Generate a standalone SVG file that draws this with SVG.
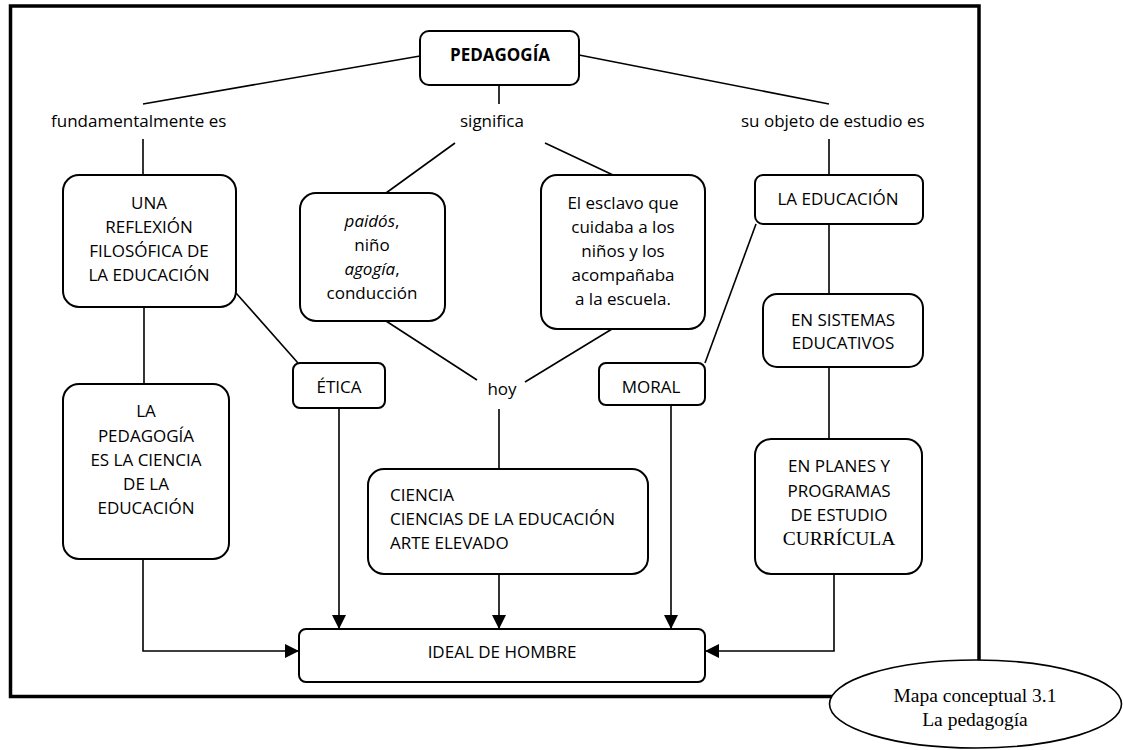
<svg xmlns="http://www.w3.org/2000/svg" width="1123" height="750" viewBox="0 0 1123 750">
  <style>
    .box { fill: #fff; stroke: #000; stroke-width: 2; }
    .t { font-family: "Open Sans", "Liberation Sans", sans-serif; font-size: 17px; fill: #000; }
    .c { text-anchor: middle; }
    .b { font-weight: bold; }
    .i { font-style: italic; }
    .serif { font-family: "Liberation Serif", "Times New Roman", serif; font-size: 19.5px; fill: #000; }
    .ln { fill: none; stroke: #000; stroke-width: 1.6; }
    .arr { fill: none; stroke: #000; stroke-width: 1.6; marker-end: url(#head); }
  </style>
  <defs>
    <marker id="head" markerUnits="userSpaceOnUse" markerWidth="14" markerHeight="14" refX="14" refY="7" orient="auto">
      <path d="M0,0 L14,7 L0,14 z" fill="#000"/>
    </marker>
  </defs>

  <rect width="1123" height="750" fill="#fff"/>

  <!-- outer frame -->
  <rect id="frame" x="10.5" y="6" width="968.5" height="690.5" fill="none" stroke="#000" stroke-width="3.5"/>

  <!-- connectors -->
  <g id="connectors">
    <line class="ln" x1="420" y1="56" x2="143" y2="104"/>
    <line class="ln" x1="499" y1="85" x2="499" y2="104"/>
    <line class="ln" x1="579" y1="55" x2="829" y2="104"/>
    <line class="ln" x1="143" y1="139" x2="143" y2="175"/>
    <line class="ln" x1="829" y1="139" x2="829" y2="175"/>
    <line class="ln" x1="455" y1="143" x2="386" y2="193"/>
    <line class="ln" x1="545" y1="143" x2="613" y2="175"/>
    <line class="ln" x1="144" y1="307" x2="144" y2="384"/>
    <line class="ln" x1="236" y1="293" x2="298" y2="363"/>
    <line class="ln" x1="386" y1="321" x2="477" y2="380"/>
    <line class="ln" x1="612" y1="329" x2="525" y2="382"/>
    <line class="ln" x1="499" y1="409" x2="499" y2="469"/>
    <line class="ln" x1="705" y1="363" x2="756" y2="224"/>
    <line class="ln" x1="829" y1="224" x2="829" y2="294"/>
    <line class="ln" x1="829" y1="367" x2="829" y2="439"/>
    <path class="arr" d="M143,559 V651 H299"/>
    <path class="arr" d="M339,408 V629"/>
    <path class="arr" d="M499,574 V629"/>
    <path class="arr" d="M671,405 V629"/>
    <path class="arr" d="M834,574 V651 H705"/>
  </g>

  <!-- link phrases -->
  <g id="labels">
    <text class="t" x="51" y="127">fundamentalmente es</text>
    <text class="t" x="460" y="127">significa</text>
    <text class="t" x="741" y="127">su objeto de estudio es</text>
    <text class="t c" x="502" y="395">hoy</text>
  </g>

  <g id="n-pedagogia">
    <rect class="box" x="420" y="31" width="159" height="54" rx="9"/>
    <text class="t c b" x="500" y="61">PEDAGOGÍA</text>
  </g>

  <g id="n-reflexion">
    <rect class="box" x="63" y="175" width="173" height="132" rx="16"/>
    <text class="t c" x="149" y="209">UNA</text>
    <text class="t c" x="149" y="233">REFLEXIÓN</text>
    <text class="t c" x="149" y="257">FILOSÓFICA DE</text>
    <text class="t c" x="149" y="281">LA EDUCACIÓN</text>
  </g>

  <g id="n-ciencia-educacion">
    <rect class="box" x="63" y="384" width="166" height="175" rx="16"/>
    <text class="t c" x="146" y="417">LA</text>
    <text class="t c" x="146" y="442">PEDAGOGÍA</text>
    <text class="t c" x="146" y="466">ES LA CIENCIA</text>
    <text class="t c" x="146" y="490">DE LA</text>
    <text class="t c" x="146" y="514">EDUCACIÓN</text>
  </g>

  <g id="n-paidos">
    <rect class="box" x="300" y="193" width="145" height="128" rx="16"/>
    <text class="t c" x="372" y="227"><tspan class="i">paidós</tspan>,</text>
    <text class="t c" x="372" y="251">niño</text>
    <text class="t c" x="372" y="275"><tspan class="i">agogía</tspan>,</text>
    <text class="t c" x="372" y="299">conducción</text>
  </g>

  <g id="n-esclavo">
    <rect class="box" x="541" y="175" width="164" height="154" rx="16"/>
    <text class="t c" x="623" y="209">El esclavo que</text>
    <text class="t c" x="623" y="233">cuidaba a los</text>
    <text class="t c" x="623" y="257">niños y los</text>
    <text class="t c" x="623" y="281">acompañaba</text>
    <text class="t c" x="623" y="305">a la escuela.</text>
  </g>

  <g id="n-etica">
    <rect class="box" x="293" y="363" width="92" height="45" rx="7"/>
    <text class="t c" x="339" y="393">ÉTICA</text>
  </g>

  <g id="n-moral">
    <rect class="box" x="599" y="363" width="106" height="42" rx="7"/>
    <text class="t c" x="651" y="393">MORAL</text>
  </g>

  <g id="n-la-educacion">
    <rect class="box" x="755" y="175" width="168" height="49" rx="8"/>
    <text class="t c" x="838" y="205">LA EDUCACIÓN</text>
  </g>

  <g id="n-sistemas">
    <rect class="box" x="763" y="294" width="160" height="73" rx="14"/>
    <text class="t c" x="843" y="326">EN SISTEMAS</text>
    <text class="t c" x="843" y="349">EDUCATIVOS</text>
  </g>

  <g id="n-planes">
    <rect class="box" x="755" y="439" width="167" height="135" rx="16"/>
    <text class="t c" x="839" y="472">EN PLANES Y</text>
    <text class="t c" x="839" y="497">PROGRAMAS</text>
    <text class="t c" x="839" y="521">DE ESTUDIO</text>
    <text class="serif c" x="839" y="545">CURRÍCULA</text>
  </g>

  <g id="n-ciencia">
    <rect class="box" x="368" y="469" width="280" height="105" rx="16"/>
    <text class="t" x="390" y="501">CIENCIA</text>
    <text class="t" x="390" y="525">CIENCIAS DE LA EDUCACIÓN</text>
    <text class="t" x="390" y="549">ARTE ELEVADO</text>
  </g>

  <g id="n-ideal">
    <rect class="box" x="299" y="629" width="406" height="53" rx="7"/>
    <text class="t c" x="502" y="658">IDEAL DE HOMBRE</text>
  </g>

  <g id="caption">
    <ellipse cx="975.5" cy="704" rx="146" ry="44" fill="#fff" stroke="#000" stroke-width="1.6"/>
    <text class="serif c" x="975" y="702">Mapa conceptual 3.1</text>
    <text class="serif c" x="975" y="726">La pedagogía</text>
  </g>
</svg>
